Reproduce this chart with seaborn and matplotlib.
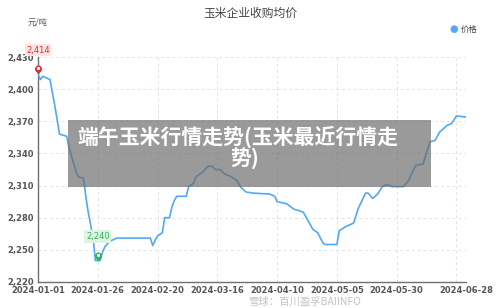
import numpy as np
import pandas as pd
import matplotlib
matplotlib.use("Agg")
import matplotlib.pyplot as plt
from matplotlib.path import Path
from matplotlib.patches import Rectangle
import seaborn as sns

# ---- data ----
day_offsets = [0, 1, 2, 5, 7, 9, 12, 13, 15, 16, 17, 19, 20, 21, 23, 24, 25, 26, 27, 28, 30,
               33, 47, 48, 49, 50, 52, 53, 55, 56, 57, 58, 62, 63, 65, 66, 69, 71, 73, 74,
               76, 78, 81, 83, 85, 87, 90, 97, 99, 100, 104, 107, 110, 111, 115, 117, 119,
               120, 125, 126, 129, 132, 134, 137, 138, 140, 142, 144, 146, 148, 153, 155,
               158, 161, 164, 166, 168, 171, 173, 175, 179]
prices = [2414, 2409, 2412, 2409, 2385, 2358, 2356, 2345, 2330, 2322, 2318, 2317, 2300, 2285,
          2262, 2240, 2240, 2240, 2248, 2253, 2258, 2261, 2261, 2254, 2259, 2263, 2266, 2280, 2280,
          2290, 2296, 2300, 2300, 2309, 2312, 2318, 2323, 2328, 2328, 2325, 2325, 2321, 2318,
          2315, 2308, 2304, 2303, 2302, 2300, 2295, 2293, 2288, 2286, 2285, 2269, 2266, 2257,
          2255, 2255, 2268, 2272, 2275, 2289, 2303, 2303, 2298, 2302, 2309, 2311, 2309, 2309,
          2315, 2329, 2330, 2351, 2352, 2360, 2366, 2368, 2375, 2374]
start_date = "2024-01-01"
end_date = "2024-06-28"
y_ticks = [2220, 2250, 2280, 2310, 2340, 2370, 2400, 2430]
x_tick_labels = ["2024-01-01", "2024-01-26", "2024-02-20", "2024-03-16", "2024-04-10",
                 "2024-05-05", "2024-05-30", "", "2024-06-28"]
title = "玉米企业收购均价"
unit_label = "元/吨"
legend_label = "价格"
overlay_lines = ["端午玉米行情走势(玉米最近行情走", "势)"]
max_label = "2,414"
min_label = "2,240"
watermark = "雪球：百川盈孚BAIINFO"

dates = pd.to_datetime(start_date) + pd.to_timedelta(day_offsets, unit="D")
df = pd.DataFrame({"date": dates, "price": prices})

sns.set_theme(style="white")
plt.rcParams["font.family"] = ["Noto Sans CJK SC", "DejaVu Sans"]

fig = plt.figure(figsize=(5.0, 3.08), dpi=100)
ax = fig.add_axes([38 / 500, 1 - 282 / 308, (466 - 38) / 500, (282 - 57) / 308])

line_color = "#52a9f5"
sns.lineplot(data=df, x="date", y="price", ax=ax, color=line_color, linewidth=1.2, zorder=3)

x0 = pd.to_datetime(start_date)
x1 = pd.to_datetime(end_date)
ax.set_xlim(x0, x1)
ax.set_ylim(y_ticks[0], y_ticks[-1])

tick_dates = list(pd.date_range(x0, periods=7, freq="25D")) + [x0 + pd.Timedelta(days=175), x1]
ax.set_xticks(tick_dates)
ax.set_xticklabels(x_tick_labels)
ax.set_yticks(y_ticks)
ax.set_yticklabels([f"{v:,}" for v in y_ticks])
ax.tick_params(axis="both", length=0, labelsize=6, colors="#555555", pad=3)
for lab in ax.get_xticklabels() + ax.get_yticklabels():
    lab.set_fontweight("bold")
    lab.set_family(["DejaVu Sans"])

ax.grid(True, linestyle=(0, (3, 3)), color="#dde3ee", linewidth=0.7)
ax.set_axisbelow(True)
for s in ["top", "right"]:
    ax.spines[s].set_visible(False)
ax.spines["left"].set_color("#6e7079")
ax.spines["bottom"].set_color("#6e7079")
ax.spines["left"].set_linewidth(1.0)
ax.spines["bottom"].set_linewidth(1.0)
ax.set_xlabel("")
ax.set_ylabel("")

# pin marker (tip at origin)
circ = Path.circle((0, 1.45), 0.9)
tri = Path([(-0.78, 1.0), (0, 0), (0.78, 1.0), (-0.78, 1.0)],
           [Path.MOVETO, Path.LINETO, Path.LINETO, Path.CLOSEPOLY])
pin = Path.make_compound_path(circ, tri)
hole = Path.make_compound_path(Path.circle((0, 1.45), 0.38),
                               Path([(0, 0), (0, -0.001)], [Path.MOVETO, Path.LINETO]))

imax = int(np.argmax(prices))
imin = int(np.argmin(prices))
pts = [(dates[imax], prices[imax], "#d9323a", "#fde3e3", max_label),
       (dates[imin + 1], prices[imin + 1], "#2fb45a", "#dff3e4", min_label)]
for xd, yv, col, bg, lab in pts:
    ax.plot([xd], [yv], marker=pin, markersize=13, color=col, markeredgewidth=0,
            linestyle="none", zorder=6, clip_on=False)
    ax.plot([xd], [yv], marker=hole, markersize=11, color="white", markeredgewidth=0,
            linestyle="none", zorder=7, clip_on=False)
    ax.annotate(lab, (xd, yv), xytext=(0, 14), textcoords="offset points",
                ha="center", va="bottom", fontsize=6, color=col, family=["DejaVu Sans"],
                bbox=dict(boxstyle="square,pad=0.2", fc=bg, ec="none"), zorder=8,
                annotation_clip=False)

# title, unit, legend
fig.text(0.5, 1 - 13 / 308, title, ha="center", va="center", fontsize=8.5, color="#464646")
fig.text(38 / 500, 1 - 22 / 308, unit_label, ha="center", va="center", fontsize=6, color="#555555")
fig.text(454 / 500, 1 - 29 / 308, "●", ha="center", va="center", fontsize=7, color=line_color,
         family=["DejaVu Sans"])
fig.text(461 / 500, 1 - 29 / 308, legend_label, ha="left", va="center", fontsize=6, color="#444444")

# overlay banner
fig.patches.append(Rectangle((68 / 500, 1 - 187 / 308), (431 - 68) / 500, (187 - 120) / 308,
                             transform=fig.transFigure, facecolor="#6a6a6a", alpha=0.68,
                             edgecolor="none", zorder=10))
fig.text(238 / 500, 1 - 137 / 308, overlay_lines[0], ha="center", va="center", fontsize=15,
         fontweight="bold", color="white", zorder=11)
fig.text(245 / 500, 1 - 158 / 308, overlay_lines[1], ha="center", va="center", fontsize=15,
         fontweight="bold", color="white", zorder=11)

# bottom watermark (kept just below the tick labels)
fig.text(305 / 500, 1 - 302 / 308, watermark, ha="center", va="center", fontsize=7.5,
         color="#9a9a9a", alpha=0.6, zorder=12)

fig.savefig("out.png", dpi=100)
